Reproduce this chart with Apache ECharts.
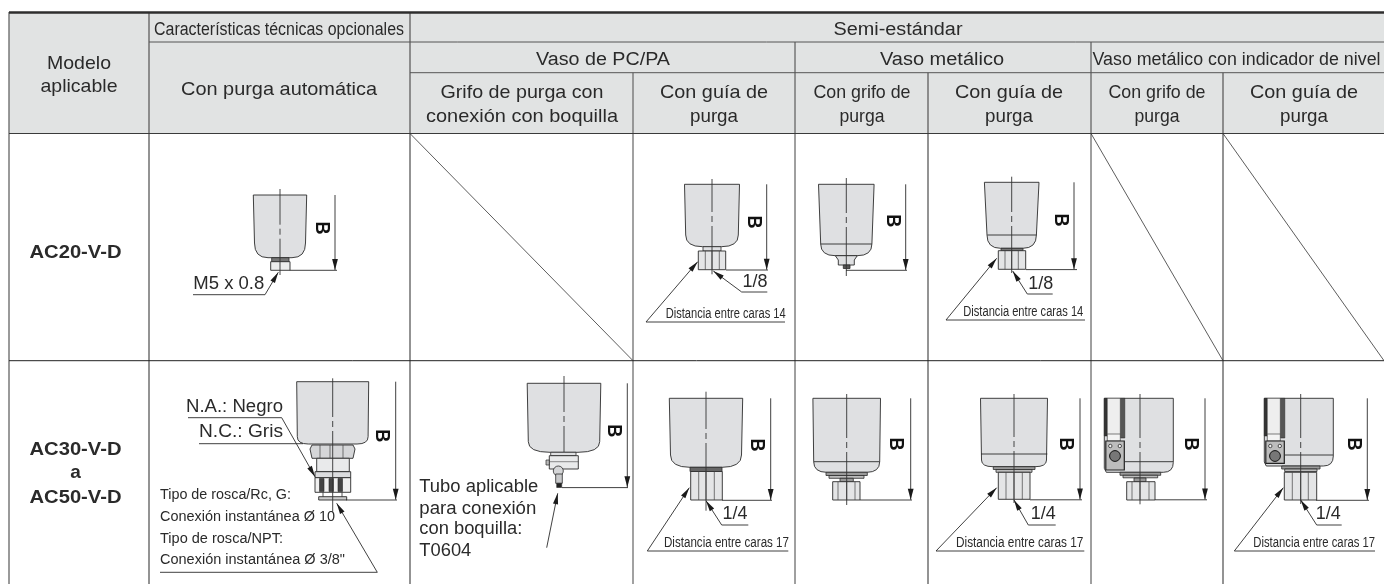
<!DOCTYPE html>
<html><head><meta charset="utf-8">
<style>html,body{margin:0;padding:0;background:#fff}#c{width:1384px;height:584px}</style>
<script src="https://cdn.jsdelivr.net/npm/echarts@6/dist/echarts.min.js"></script>
</head><body><div id="c"></div>
<script>
// ---- table content ----
const modelHeader = ['Modelo', 'aplicable'];
const optionalHeader = 'Características técnicas opcionales';
const autoDrainHeader = 'Con purga automática';
const semiStandardHeader = 'Semi-estándar';
const bowlGroups = ['Vaso de PC/PA', 'Vaso metálico', 'Vaso metálico con indicador de nivel'];
const drainHeaders = [
  ['Grifo de purga con', 'conexión con boquilla'], ['Con guía de', 'purga'],
  ['Con grifo de', 'purga'], ['Con guía de', 'purga'],
  ['Con grifo de', 'purga'], ['Con guía de', 'purga']
];
const modelNames = ['AC20-V-D', 'AC30-V-D', 'a', 'AC50-V-D'];
const flatsLabels = ['Distancia entre caras 14', 'Distancia entre caras 17'];
const portLabels = ['1/8', '1/4'];
const autoDrainNotes = ['N.A.: Negro', 'N.C.: Gris', 'Tipo de rosca/Rc, G:', 'Conexión instantánea Ø 10', 'Tipo de rosca/NPT:', 'Conexión instantánea Ø 3/8"'];
const nippleNotes = ['Tubo aplicable', 'para conexión', 'con boquilla:', 'T0604'];
const threadLabel = 'M5 x 0.8';
const dimensionLabel = 'B';

// ---- drawing primitives, all in axis units ----
const FONT = '"Liberation Sans", Arial, sans-serif';
const INK = '#2b2b2b', GRAY = '#6f6f6f', BODY = '#dfe0e2', HEAD = '#e1e3e3';
const marks = [];
const ctx = document.createElement('canvas').getContext('2d');
function line(pts, w, c) { marks.push({k:'p', cmds: pts.map((p,i)=>[i?'L':'M',p[0],p[1]]), stroke:c||INK, w:w||1, fill:'none'}); }
function shape(cmds, fill, stroke, w) { marks.push({k:'p', cmds, fill, stroke:stroke||'none', w:w||1}); }
function rect(x0,y0,x1,y1,fill,stroke,w){ shape([['M',x0,y0],['L',x1,y0],['L',x1,y1],['L',x0,y1],['Z']],fill,stroke===undefined?INK:stroke,w||0.9); }
function circle(x,y,r,fill,stroke,w){ marks.push({k:'c',x,y,r,fill,stroke:stroke||INK,w:w||0.8}); }
function text(s,x,y,size,width,o){
  o=o||{}; const weight=o.bold?'bold ':'';
  ctx.font=weight+size+'px '+FONT;
  const sx=width?width/ctx.measureText(s).width:1;
  marks.push({k:'t',s,x,y:o.rot?y:y-size*0.26,size,sx,weight,align:o.align||'left',rot:o.rot||0,color:o.color||'#2a2a2a'});
}
function arrow(tx,ty,fx,fy,len,hw){
  len=len||10; hw=hw||2.8;
  const d=Math.hypot(fx-tx,fy-ty), ux=(fx-tx)/d, uy=(fy-ty)/d;
  const bx=tx+ux*len, by=ty+uy*len;
  shape([['M',tx,ty],['L',bx-uy*hw,by+ux*hw],['L',bx+uy*hw,by-ux*hw],['Z']],'#1a1a1a');
}
function bowl(cx,top,hwTop,yEnd,hwEnd,yBot,hwBot){
  shape([['M',cx-hwTop,top],['L',cx+hwTop,top],['L',cx+hwEnd,yEnd],['Q',cx+hwEnd,yBot,cx+hwBot,yBot],
    ['L',cx-hwBot,yBot],['Q',cx-hwEnd,yBot,cx-hwEnd,yEnd],['Z']],BODY,INK,0.9);
}
function center(cx,y0,y1,ym){
  line([[cx,y0],[cx,ym-7]],0.9,'#333'); line([[cx,ym-3],[cx,ym+3]],0.9,'#333'); line([[cx,ym+7],[cx,y1]],0.9,'#333');
}
function dim(x,top,bot,extFrom,extTo,bx,by){
  line([[x,top],[x,bot]],0.9,INK);
  arrow(x,bot,x,top,11,2.9);
  line([[extFrom,bot+0.3],[extTo,bot+0.3]],0.9,INK);
  text(dimensionLabel,bx,by,20,13,{bold:true,align:'center',rot:-Math.PI/2,color:'#111'});
}
function nut(x0,x1,y0,y1,inner){
  rect(x0,y0,x1,y1,'#e4e5e6',INK,0.9);
  (inner||[]).forEach(x=>line([[x,y0],[x,y1]],0.7,'#444'));
}
function flatsNote(label,textX,textEnd,base,lineStart,lineEnd,tipX,tipY){
  text(label,textX,base,15.5,textEnd-textX);
  line([[lineEnd,base+4.5],[lineStart,base+4.5],[tipX,tipY]],0.9,INK);
  arrow(tipX,tipY,lineStart,base+4.5,11,2.6);
}
function portNote(label,tx,base,ex,kx,ly,tipX,tipY){
  text(label,tx,base,18,25,{align:'center'});
  line([[ex,ly],[kx,ly],[tipX,tipY]],0.9,INK);
  arrow(tipX,tipY,kx,ly,11,2.6);
}

// ---- table cells ----
rect(9,12,1384,133.5,HEAD,'none');
const COLS = {model:149, auto:410, g1a:633, g1b:795, g2a:928, g2b:1091, g3a:1223};
[[9,12,584,GRAY,1.4],[COLS.model,12,584,GRAY,1.5],[COLS.auto,12,584,GRAY,1.5],[COLS.g1a,72.7,584,GRAY,1.3],
 [COLS.g1b,42,584,'#404040',1],[COLS.g2a,72.7,584,GRAY,1.5],[COLS.g2b,42,584,'#404040',1],[COLS.g3a,72.7,584,GRAY,1.5]]
 .forEach(v=>line([[v[0],v[1]],[v[0],v[2]]],v[4],v[3]));
line([[COLS.model,42],[1384,42]],1,'#555');
line([[COLS.auto,72.7],[1384,72.7]],1,'#555');
line([[9,133.5],[1384,133.5]],1.2,'#3a3a3a');
line([[9,360.7],[1384,360.7]],1,'#222');
line([[9,12.5],[1384,12.5]],2.4,'#2e2e2e');
line([[COLS.auto,133.5],[COLS.g1a,360.7]],0.8,'#333');
line([[COLS.g2b,133.5],[COLS.g3a,360.7]],0.8,'#333');
line([[COLS.g3a,133.5],[1384,360.7]],0.8,'#333');

// ---- header text ----
text(modelHeader[0],79,69,19,64,{align:'center'});
text(modelHeader[1],79,92,19,77,{align:'center'});
text(optionalHeader,154,34.5,18,250);
text(autoDrainHeader,279,95,19,196,{align:'center'});
text(semiStandardHeader,898,34.7,18,129,{align:'center'});
text(bowlGroups[0],603,65,18,134,{align:'center'});
text(bowlGroups[1],942,65,18,124,{align:'center'});
text(bowlGroups[2],1092.5,65,18,288);
const drainCenters=[522,714,862,1009,1157,1304], drainW=[[163,192],[108,48],[97,45],[108,48],[97,45],[108,48]];
drainHeaders.forEach((h,i)=>{
  text(h[0],drainCenters[i],98,19,drainW[i][0],{align:'center'});
  text(h[1],drainCenters[i],122,19,drainW[i][1],{align:'center'});
});
text(modelNames[0],75.5,258,19,92,{bold:true,align:'center'});
text(modelNames[1],75.5,455,19,92,{bold:true,align:'center'});
text(modelNames[2],75.5,478,19,null,{bold:true,align:'center'});
text(modelNames[3],75.5,503,19,92,{bold:true,align:'center'});

// ---- row 1: AC20 ----
// auto drain
bowl(280,195,26.7,243,25.5,257.7,12);
rect(271.7,257.7,289,261.7,'#777',INK,0.8);
rect(270.7,261.7,290,270.3,'#eceded',INK,0.9);
center(280,189,275,231.7);
dim(335,195,270,290,337,322,228);
text(threadLabel,193.3,289,18.5,71);
line([[193,294.7],[265,294.7],[278.3,272.3]],0.9,INK);
arrow(278.3,272.3,265,294.7,11,2.6);
// PC/PA with drain guide
bowl(712,184.3,27.5,235,26.3,246.7,9.5);
rect(703,246.7,721,251,BODY,INK,0.8);
nut(698.3,725.7,251,269.7,[705.3,712,719.3]);
center(712,179,274.3,219);
dim(766.7,184.3,269.7,726,768,754,222);
portNote(portLabels[0],755,286.7,767.3,741.7,292,713.3,271);
flatsNote(flatsLabels[0],665.7,785.7,317.5,646,785,697.7,261.7);
// metal bowl with drain cock
bowl(846.3,184.3,27.8,244,25.6,255.7,11);
line([[820.7,244],[871.9,244]],0.9,INK);
shape([['M',835.3,255.7],['L',857.3,255.7],['L',854.3,260],['L',854.3,265],['L',838.3,265],['L',838.3,260],['Z']],BODY,INK,0.9);
rect(843.3,265,850,268.5,'#555',INK,0.8);
center(846.3,178,276,220);
dim(905.7,184.3,270,846,907,892.7,220.7);
// metal bowl with drain guide
bowl(1011.7,182.3,27.3,235,24.7,248.3,11);
line([[987.3,235],[1036.4,235]],0.9,INK);
rect(1001,248.3,1023,250.7,'#777',INK,0.8);
nut(998.3,1025.7,250.7,269.3,[1005,1011.7,1018.3]);
center(1011.7,176.7,273,219);
dim(1074,182.3,269.3,1026,1077,1061,220);
portNote(portLabels[0],1040.7,288.3,1052.7,1027.3,294,1012.7,271);
flatsNote(flatsLabels[0],963.3,1083.3,315.5,946,1085,996.7,258.3);

// ---- row 2: AC30..AC50 ----
// auto drain
bowl(332.7,381.7,36,436.7,35.4,444,24.4);
shape([['M',312,445],['L',353,445],['L',355,449],['L',353,458.3],['L',312,458.3],['L',310,449],['Z']],'#d5d6d8',INK,0.9);
[320,330,343].forEach(x=>line([[x,445],[x,458.3]],0.7,'#444'));
rect(316.7,458.3,349.3,471.7,'#e9eaeb',INK,0.9);
rect(315,471.7,350.7,477.7,'#dcdddf',INK,0.9);
rect(315,477.7,350.7,492.3,'#f0f0f0',INK,0.9);
[319.5,329,338].forEach(x=>rect(x,478.5,x+4.5,491.5,'#444',INK,0.6));
rect(318.7,496.7,346.7,500,'#ccc',INK,0.9);
line([[323,492.3],[323,496.7]],0.8,INK); line([[342,492.3],[342,496.7]],0.8,INK);
center(332.7,378.3,511.7,424);
dim(395.7,381.7,499.7,346,397,381.7,435.7);
text(autoDrainNotes[0],186,412,17.5,97);
line([[188,417.7],[281.7,417.7],[315,476.7]],0.9,INK);
arrow(315,476.7,281.7,417.7,11,2.6);
text(autoDrainNotes[1],199,436.7,17.5,84);
line([[199,443.7],[303,443.7]],0.9,INK);
text(autoDrainNotes[2],160,499,15.5,131);
text(autoDrainNotes[3],160,521,15.5,175);
text(autoDrainNotes[4],160,543,15.5,123);
text(autoDrainNotes[5],160,564,15.5,185);
line([[160,572.3],[377.3,572.3],[336.7,503.3]],0.9,INK);
arrow(336.7,503.3,377.3,572.3,11,2.6);

// PC/PA with nipple
bowl(564,383.3,36.8,441.7,35.7,452.3,14);
rect(550.7,452.3,576,455.7,BODY,INK,0.8);
rect(549.3,455.7,578.3,469,'#e9eaeb',INK,0.9);
line([[549.3,461.7],[578.3,461.7]],0.6,'#444');
rect(546,460,549.3,465,'#bbb',INK,0.7);
circle(558.3,471,5,'#d5d6d8');
rect(555.7,474,562.3,483.3,'#c9cacc',INK,0.8);
rect(556.7,483.3,561.7,487.5,'#222',INK,0.6);
center(564,376,452,419);
dim(627.3,383.3,487.3,562,628,614,430.7);
text(nippleNotes[0],419.3,491.7,17.5,119);
text(nippleNotes[1],419.3,513.3,17.5,117);
text(nippleNotes[2],419.3,534,17.5,103);
text(nippleNotes[3],419.3,556,17.5,52);
line([[546.7,547.7],[557.7,493.3]],0.9,INK);
arrow(557.7,493.3,546.7,547.7,11,2.6);
// PC/PA with drain guide
bowl(706,398.3,36.7,455,35.5,467.3,16);
rect(690,467.3,722,471.5,'#666',INK,0.8);
nut(690.7,722.3,471.5,500,[698.7,706,714.3]);
center(706,391.7,510.7,436);
dim(770.7,398.3,500,722,772,756.7,445);
portNote(portLabels[1],735,519,748.3,721.7,525,706,500.7);
flatsNote(flatsLabels[1],664,789,546.5,647.3,788.3,689.3,487.7);
// metal bowl with cock
bowl(846.7,398.3,33.8,461.7,33,472.3,20);
line([[813.7,461.7],[879.7,461.7]],0.9,INK);
rect(826,472.3,867.3,475.5,'#9a9a9a',INK,0.8);
rect(829,475.5,864,478.3,'#bdbdbd',INK,0.8);
rect(840,478.3,853.3,481.7,'#999',INK,0.8);
nut(832.7,860,481.7,500,[838,846.7,855]);
center(846.7,394,505,445);
dim(910.7,398.3,499.7,860,912,896,444);
// metal bowl with guide
bowl(1014,398.3,33.5,460,32.5,466.7,21);
line([[981,454],[1047.3,454]],0.9,INK);
rect(993.3,466.7,1035,469.5,'#9a9a9a',INK,0.8);
rect(996,469.5,1032,472.3,'#bdbdbd',INK,0.8);
nut(998.3,1030,472.3,499.3,[1006,1014,1022.3]);
center(1014,394,503,444);
dim(1080,398.3,499.5,1030,1082,1066,444);
portNote(portLabels[1],1043.3,519,1055.7,1028.3,525,1014,500);
flatsNote(flatsLabels[1],956,1083.3,546.5,936,1084.3,996.7,487.7);
// level indicator bowl
function indicator(x0,yBodyBot,flangeL,flangeR,moduleTop,moduleBot,cxRight){
  const x1=cxRight;
  shape([['M',x0,398.3],['L',x1,398.3],['L',x1,yBodyBot-10],['Q',x1,yBodyBot,x1-10,yBodyBot],['L',x0+2,yBodyBot],['L',x0,yBodyBot-4],['Z']],BODY,INK,0.9);
  rect(x0,398.3,x0+3,moduleTop-1,'#333','#222',0.5);
  rect(x0+16,398.3,x0+20.5,moduleTop+1,'#555','#222',0.5);
  rect(x0+3,398.3,x0+16,moduleTop-1,'#eeeeee',INK,0.5);
  rect(x0+3,moduleTop-3,x0+16,moduleTop+4,'#f4f4f4',INK,0.6);
  rect(x0+1.5,moduleTop+4,x0+20,moduleBot,'#bdbdbd','#222',1.2);
  circle(x0+6,moduleTop+9,1.7,'#f5f5f5');
  circle(x0+15.5,moduleTop+9,1.7,'#f5f5f5');
  circle(x0+10.7,moduleTop+19,5.4,'#777','#111',1);
  rect(flangeL,yBodyBot,flangeR,yBodyBot+3,'#9a9a9a',INK,0.8);
  rect(flangeL+3,yBodyBot+3,flangeR-3,yBodyBot+5.5,'#bdbdbd',INK,0.8);
}
indicator(1104.3,472.3,1120,1160.7,437,470,1173.3);
line([[1124.3,461.7],[1173,461.7]],0.9,INK);
rect(1134,478,1146,481.7,'#999',INK,0.8);
nut(1126.7,1155,481.7,500,[1132,1140,1149]);
center(1140,394,504.3,445);
dim(1205,398.3,499.5,1155,1207,1191,444);
indicator(1264.3,466,1281.7,1320,437,463.3,1333.3);
line([[1285,455],[1333,455]],0.9,INK);
nut(1284.3,1316.7,472.3,500,[1292.3,1300.7,1308.3]);
center(1300.7,394,504,445);
dim(1367.3,398.3,500,1316,1369,1353.3,444);
portNote(portLabels[1],1328.3,518.3,1341.7,1316.7,525,1300.7,500);
flatsNote(flatsLabels[1],1253.3,1375,546.5,1234.3,1375,1283.3,487.7);

// ---- chart ----
function renderItem(params, api){
  const m = marks[api.value(0)];
  const px = (x,y)=>api.coord([x,y]);
  if(m.k==='t'){
    const p=px(m.x,m.y);
    return {type:'text',x:p[0],y:p[1],scaleX:m.sx,rotation:m.rot,silent:true,
      style:{text:m.s,font:m.weight+m.size+'px '+FONT,fill:m.color,align:m.align,verticalAlign:'middle'}};
  }
  if(m.k==='c'){
    const p=px(m.x,m.y);
    return {type:'circle',shape:{cx:p[0],cy:p[1],r:m.r},silent:true,style:{fill:m.fill,stroke:m.stroke,lineWidth:m.w}};
  }
  const d=m.cmds.map(c=>{
    if(c[0]==='Z') return 'Z';
    const out=[c[0]];
    for(let i=1;i<c.length;i+=2){const p=px(c[i],c[i+1]);out.push(p[0],p[1]);}
    return out.join(' ');
  }).join(' ');
  return {type:'path',shape:{pathData:d},silent:true,style:{fill:m.fill==='none'?null:m.fill,stroke:m.stroke==='none'?null:m.stroke,lineWidth:m.w}};
}
const chart = echarts.init(document.getElementById('c'),null,{renderer:'canvas'});
chart.setOption({
  animation:false,
  backgroundColor:'#fff',
  tooltip:{show:false},
  grid:{left:0,right:0,top:0,bottom:0,containLabel:false},
  xAxis:{type:'value',min:0,max:1384,show:false},
  yAxis:{type:'value',min:0,max:584,inverse:true,show:false},
  series:[{type:'custom',coordinateSystem:'cartesian2d',clip:false,silent:true,
    encode:{x:0,y:0},renderItem,data:marks.map((_,i)=>[i])}]
});
</script></body></html>
